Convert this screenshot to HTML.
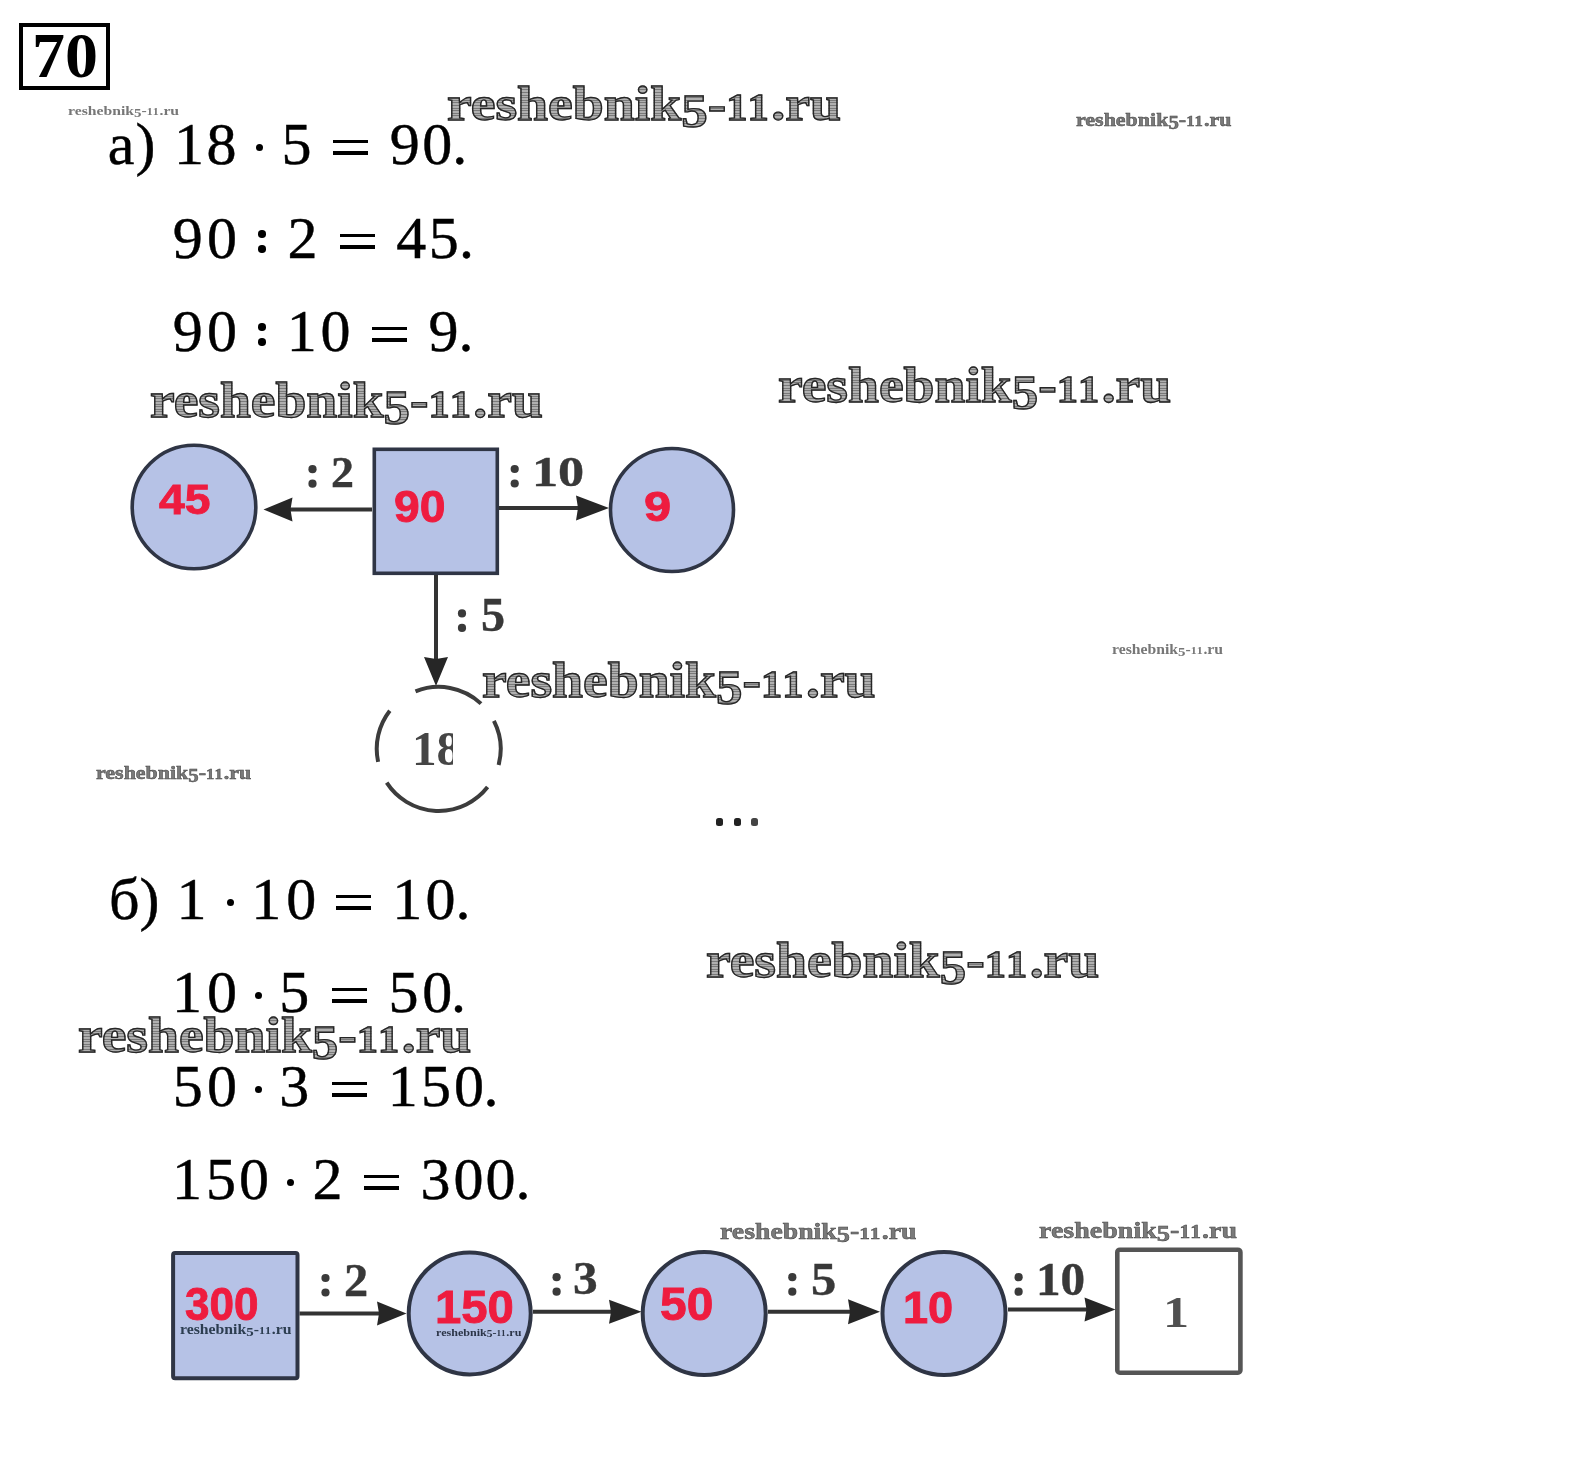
<!DOCTYPE html>
<html><head><meta charset="utf-8"><title>70</title>
<style>
html,body{margin:0;padding:0;background:#fff;}
body{width:1594px;height:1458px;position:relative;overflow:hidden;}
.s{position:absolute;left:0;top:0;}
.t{position:absolute;line-height:1;white-space:pre;font-weight:bold;transform-origin:0 0;}
.m{position:absolute;font-family:'Liberation Serif',serif;font-size:60px;line-height:1;font-weight:normal;color:#000;white-space:pre;-webkit-text-stroke:0.45px #000;}
.wm{background:repeating-linear-gradient(180deg,#7a7a7a 0 1px,#b0b0b0 1px 2.6px);-webkit-background-clip:text;background-clip:text;color:transparent!important;}
.b{position:absolute;height:3.4px;background:#000;}
.d{position:absolute;width:7.5px;height:7.5px;border-radius:50%;background:#000;}
.o5{font-size:0.95em;vertical-align:-0.14em}.o1{font-size:0.76em;letter-spacing:0.06em}
.box{position:absolute;left:19px;top:23px;width:83px;height:59px;border:4.4px solid #000;}
</style></head><body>
<div class="box"></div>
<b class="m" style="left:107.8px;top:114px">a</b>
<b class="m" style="left:135.6px;top:114px">)</b>
<b class="m" style="left:174px;top:114px">1</b>
<b class="m" style="left:206.5px;top:114px">8</b>
<i class="d" style="left:255.6px;top:143.6px"></i>
<b class="m" style="left:281.4px;top:114px">5</b>
<i class="b" style="left:332.7px;top:140px;width:35.2px"></i>
<i class="b" style="left:332.7px;top:151.2px;width:35.2px"></i>
<b class="m" style="left:389.7px;top:114px">9</b>
<b class="m" style="left:422.3px;top:114px">0</b>
<b class="m" style="left:452.3px;top:114px">.</b>
<b class="m" style="left:172.8px;top:208px">9</b>
<b class="m" style="left:206.9px;top:208px">0</b>
<i class="d" style="left:258px;top:230.1px"></i>
<i class="d" style="left:258px;top:245.2px"></i>
<b class="m" style="left:287.5px;top:208px">2</b>
<i class="b" style="left:340.1px;top:234px;width:35.1px"></i>
<i class="b" style="left:340.1px;top:245.2px;width:35.1px"></i>
<b class="m" style="left:396.2px;top:208px">4</b>
<b class="m" style="left:428.7px;top:208px">5</b>
<b class="m" style="left:459px;top:208px">.</b>
<b class="m" style="left:172.8px;top:301px">9</b>
<b class="m" style="left:206.9px;top:301px">0</b>
<i class="d" style="left:258px;top:323.1px"></i>
<i class="d" style="left:258px;top:338.1px"></i>
<b class="m" style="left:286.7px;top:301px">1</b>
<b class="m" style="left:320.5px;top:301px">0</b>
<i class="b" style="left:372px;top:327px;width:35.2px"></i>
<i class="b" style="left:372px;top:338.2px;width:35.2px"></i>
<b class="m" style="left:428.4px;top:301px">9</b>
<b class="m" style="left:458.4px;top:301px">.</b>
<b class="m" style="left:108.9px;top:869px">б</b>
<b class="m" style="left:139.4px;top:869px">)</b>
<b class="m" style="left:176.6px;top:869px">1</b>
<i class="d" style="left:226.7px;top:898.6px"></i>
<b class="m" style="left:251.2px;top:869px">1</b>
<b class="m" style="left:286.2px;top:869px">0</b>
<i class="b" style="left:335.8px;top:895px;width:35.2px"></i>
<i class="b" style="left:335.8px;top:906.2px;width:35.2px"></i>
<b class="m" style="left:392.3px;top:869px">1</b>
<b class="m" style="left:425.4px;top:869px">0</b>
<b class="m" style="left:455.4px;top:869px">.</b>
<b class="m" style="left:171.9px;top:962px">1</b>
<b class="m" style="left:206.9px;top:962px">0</b>
<i class="d" style="left:254.7px;top:991.6px"></i>
<b class="m" style="left:279.3px;top:962px">5</b>
<i class="b" style="left:332px;top:988px;width:35.1px"></i>
<i class="b" style="left:332px;top:999.2px;width:35.1px"></i>
<b class="m" style="left:388.6px;top:962px">5</b>
<b class="m" style="left:422.2px;top:962px">0</b>
<b class="m" style="left:451px;top:962px">.</b>
<b class="m" style="left:172.7px;top:1056px">5</b>
<b class="m" style="left:206.9px;top:1056px">0</b>
<i class="d" style="left:254.7px;top:1085.6px"></i>
<b class="m" style="left:279.3px;top:1056px">3</b>
<i class="b" style="left:331.9px;top:1082px;width:35.2px"></i>
<i class="b" style="left:331.9px;top:1093.2px;width:35.2px"></i>
<b class="m" style="left:387.8px;top:1056px">1</b>
<b class="m" style="left:421.1px;top:1056px">5</b>
<b class="m" style="left:454.1px;top:1056px">0</b>
<b class="m" style="left:483.5px;top:1056px">.</b>
<b class="m" style="left:171.9px;top:1149px">1</b>
<b class="m" style="left:205.9px;top:1149px">5</b>
<b class="m" style="left:238.9px;top:1149px">0</b>
<i class="d" style="left:286.7px;top:1178.6px"></i>
<b class="m" style="left:312.6px;top:1149px">2</b>
<i class="b" style="left:363.8px;top:1175px;width:35.2px"></i>
<i class="b" style="left:363.8px;top:1186.2px;width:35.2px"></i>
<b class="m" style="left:420.4px;top:1149px">3</b>
<b class="m" style="left:453.4px;top:1149px">0</b>
<b class="m" style="left:485.4px;top:1149px">0</b>
<b class="m" style="left:515.4px;top:1149px">.</b>
<svg class="s" width="1594" height="1458" viewBox="0 0 1594 1458"><circle cx="194" cy="507" r="61.8" fill="#b6c2e6" stroke="#2f3545" stroke-width="3.6"/><rect x="374.3" y="449.3" width="123" height="124" fill="#b6c2e6" stroke="#2f3545" stroke-width="3.6"/><circle cx="672" cy="510" r="61.5" fill="#b6c2e6" stroke="#2f3545" stroke-width="3.6"/><line x1="372" y1="509.5" x2="287.5" y2="509.5" stroke="#333" stroke-width="4"/><path d="M263.5,509.5 L292.5,497.5 L290.5,509.5 L292.5,521.5 Z" fill="#262626"/><line x1="499" y1="508" x2="581" y2="508" stroke="#333" stroke-width="4"/><path d="M609,508 L576,495.5 L578,508 L576,520.5 Z" fill="#262626"/><line x1="436" y1="575" x2="436" y2="662" stroke="#333" stroke-width="4"/><path d="M436,686 L424,657 L436,659 L448,657 Z" fill="#262626"/><path d="M415.5,691.4 A62,62 0 0 1 481.0,703.6 M493.9,720.8 A62,62 0 0 1 498.6,764.9 M487.6,787.1 A62,62 0 0 1 386.7,782.7 M378.1,761.8 A62,62 0 0 1 389.8,710.7" fill="none" stroke="#3c3c3c" stroke-width="4"/><rect x="173.1" y="1253" width="124.4" height="125.3" rx="2" fill="#b6c2e6" stroke="#2f3545" stroke-width="4"/><circle cx="469.7" cy="1313.4" r="61" fill="#b6c2e6" stroke="#2f3545" stroke-width="4"/><circle cx="704.2" cy="1313.5" r="61.5" fill="#b6c2e6" stroke="#2f3545" stroke-width="4"/><circle cx="944" cy="1313.5" r="61.5" fill="#b6c2e6" stroke="#2f3545" stroke-width="4"/><rect x="1117.3" y="1249.7" width="123.1" height="123" rx="2.5" fill="#fff" stroke="#555" stroke-width="4.6"/><line x1="299.5" y1="1313.4" x2="382" y2="1313.4" stroke="#333" stroke-width="4"/><path d="M406.5,1313.4 L377,1301.4 L379,1313.4 L377,1325.4 Z" fill="#262626"/><line x1="533" y1="1311.8" x2="614" y2="1311.8" stroke="#333" stroke-width="4"/><path d="M641.5,1311.8 L609,1299.8 L611,1311.8 L609,1323.8 Z" fill="#262626"/><line x1="768" y1="1311.8" x2="853" y2="1311.8" stroke="#333" stroke-width="4"/><path d="M880,1311.8 L848,1299.3 L850,1311.8 L848,1324.3 Z" fill="#262626"/><line x1="1008" y1="1309.5" x2="1089.5" y2="1309.5" stroke="#333" stroke-width="4"/><path d="M1115.5,1309.5 L1084.5,1297.5 L1086.5,1309.5 L1084.5,1321.5 Z" fill="#262626"/><circle cx="312.5" cy="469.2" r="4.1" fill="#3a3a3a"/><circle cx="312.5" cy="483.7" r="4.1" fill="#3a3a3a"/><circle cx="514.7" cy="469.0" r="4.1" fill="#3a3a3a"/><circle cx="514.7" cy="483.5" r="4.1" fill="#3a3a3a"/><circle cx="462" cy="613.4000000000001" r="4.1" fill="#3a3a3a"/><circle cx="462" cy="627.9000000000001" r="4.1" fill="#3a3a3a"/><circle cx="325.5" cy="1278.0" r="4.1" fill="#3a3a3a"/><circle cx="325.5" cy="1292.5" r="4.1" fill="#3a3a3a"/><circle cx="556.6" cy="1277.2" r="4.1" fill="#3a3a3a"/><circle cx="556.6" cy="1291.7" r="4.1" fill="#3a3a3a"/><circle cx="792.3" cy="1277.2" r="4.1" fill="#3a3a3a"/><circle cx="792.3" cy="1291.7" r="4.1" fill="#3a3a3a"/><circle cx="1018.6" cy="1277.2" r="4.1" fill="#3a3a3a"/><circle cx="1018.6" cy="1291.7" r="4.1" fill="#3a3a3a"/><rect x="716" y="818" width="7" height="8" rx="2.5" fill="#222"/><rect x="734" y="818" width="7" height="8" rx="2.5" fill="#222"/><rect x="751" y="818" width="7" height="8" rx="2.5" fill="#444"/></svg>
<div class="t" style="left:31.84px;top:24.72px;font-family:'Liberation Serif';font-size:62.69px;color:#000;transform:scaleX(1.053);">70</div>
<div class="t" style="left:159.08px;top:478.93px;font-family:'Liberation Sans';font-size:42.29px;color:#ee1c3f;transform:scaleX(1.093);-webkit-text-stroke:0.9px #ee1c3f;">45</div>
<div class="t" style="left:394.15px;top:484.89px;font-family:'Liberation Sans';font-size:44.08px;color:#ee1c3f;transform:scaleX(1.05);-webkit-text-stroke:0.9px #ee1c3f;">90</div>
<div class="t" style="left:643.65px;top:485.66px;font-family:'Liberation Sans';font-size:42.25px;color:#ee1c3f;transform:scaleX(1.154);-webkit-text-stroke:0.9px #ee1c3f;">9</div>
<div class="t" style="left:185.12px;top:1282.11px;font-family:'Liberation Sans';font-size:45.92px;color:#ee1c3f;transform:scaleX(0.96);-webkit-text-stroke:0.9px #ee1c3f;">300</div>
<div class="t" style="left:435.46px;top:1285.31px;font-family:'Liberation Sans';font-size:45.92px;color:#ee1c3f;transform:scaleX(1.029);-webkit-text-stroke:0.9px #ee1c3f;">150</div>
<div class="t" style="left:660.36px;top:1282.11px;font-family:'Liberation Sans';font-size:45.92px;color:#ee1c3f;transform:scaleX(1.043);-webkit-text-stroke:0.9px #ee1c3f;">50</div>
<div class="t" style="left:902.99px;top:1285.48px;font-family:'Liberation Sans';font-size:44.79px;color:#ee1c3f;transform:scaleX(1.008);-webkit-text-stroke:0.9px #ee1c3f;">10</div>
<div class="t" style="left:330.86px;top:449.95px;font-family:'Liberation Serif';font-size:44.7px;color:#383838;transform:scaleX(1.028);-webkit-text-stroke:0.4px #383838;">2</div>
<div class="t" style="left:531.82px;top:450.92px;font-family:'Liberation Serif';font-size:42.79px;color:#383838;transform:scaleX(1.221);-webkit-text-stroke:0.4px #383838;">10</div>
<div class="t" style="left:481.28px;top:590.97px;font-family:'Liberation Serif';font-size:48.48px;color:#383838;transform:scaleX(0.992);-webkit-text-stroke:0.4px #383838;">5</div>
<div class="t" style="left:344.07px;top:1257.74px;font-family:'Liberation Serif';font-size:45.91px;color:#383838;transform:scaleX(1.053);-webkit-text-stroke:0.4px #383838;">2</div>
<div class="t" style="left:573.33px;top:1256.17px;font-family:'Liberation Serif';font-size:46.27px;color:#383838;transform:scaleX(1.066);-webkit-text-stroke:0.4px #383838;">3</div>
<div class="t" style="left:810.68px;top:1257.06px;font-family:'Liberation Serif';font-size:45.76px;color:#383838;transform:scaleX(1.103);-webkit-text-stroke:0.4px #383838;">5</div>
<div class="t" style="left:1036.26px;top:1256.75px;font-family:'Liberation Serif';font-size:45.59px;color:#383838;transform:scaleX(1.079);-webkit-text-stroke:0.4px #383838;">10</div>
<div class="t" style="left:1163.33px;top:1289.82px;font-family:'Liberation Serif';font-size:45.15px;color:#505050;transform:scaleX(1.155);">1</div>
<div style="position:absolute;left:400px;top:720px;width:52.5px;height:60px;overflow:hidden"><div class="t" style="left:11.76px;top:5.62px;font-family:'Liberation Serif';font-size:47.5px;color:#454545;transform:scaleX(1.036)">18</div></div>
<div class="t wm" style="left:447.37px;top:79.48px;font-family:'Liberation Serif';font-size:49.43px;color:#8d8d8d;transform:scaleX(1.1271);-webkit-text-stroke:1.3px #262626;">reshebnik<span class="o5">5</span>-<span class="o1">11</span>.ru</div>
<div class="t wm" style="left:150.27px;top:374.8px;font-family:'Liberation Serif';font-size:50.71px;color:#8d8d8d;transform:scaleX(1.0954);-webkit-text-stroke:1.3px #262626;">reshebnik<span class="o5">5</span>-<span class="o1">11</span>.ru</div>
<div class="t wm" style="left:778.37px;top:358.94px;font-family:'Liberation Serif';font-size:51.14px;color:#8d8d8d;transform:scaleX(1.0872);-webkit-text-stroke:1.3px #262626;">reshebnik<span class="o5">5</span>-<span class="o1">11</span>.ru</div>
<div class="t wm" style="left:482.07px;top:654.8px;font-family:'Liberation Serif';font-size:50.71px;color:#8d8d8d;transform:scaleX(1.0975);-webkit-text-stroke:1.3px #262626;">reshebnik<span class="o5">5</span>-<span class="o1">11</span>.ru</div>
<div class="t wm" style="left:706.27px;top:934.8px;font-family:'Liberation Serif';font-size:50.71px;color:#8d8d8d;transform:scaleX(1.0964);-webkit-text-stroke:1.3px #262626;">reshebnik<span class="o5">5</span>-<span class="o1">11</span>.ru</div>
<div class="t wm" style="left:78.37px;top:1010.48px;font-family:'Liberation Serif';font-size:50.86px;color:#8d8d8d;transform:scaleX(1.0934);-webkit-text-stroke:1.3px #262626;">reshebnik<span class="o5">5</span>-<span class="o1">11</span>.ru</div>
<div class="t" style="left:1075.65px;top:110.44px;font-family:'Liberation Serif';font-size:19.71px;color:#7a7a7a;transform:scaleX(1.1159);-webkit-text-stroke:0.5px #444;">reshebnik<span class="o5">5</span>-<span class="o1">11</span>.ru</div>
<div class="t" style="left:95.66px;top:762.5px;font-family:'Liberation Serif';font-size:19.29px;color:#7a7a7a;transform:scaleX(1.1384);-webkit-text-stroke:0.5px #444;">reshebnik<span class="o5">5</span>-<span class="o1">11</span>.ru</div>
<div class="t" style="left:719.89px;top:1219.74px;font-family:'Liberation Serif';font-size:23.29px;color:#7a7a7a;transform:scaleX(1.1926);-webkit-text-stroke:0.5px #444;">reshebnik<span class="o5">5</span>-<span class="o1">11</span>.ru</div>
<div class="t" style="left:1039.18px;top:1219.02px;font-family:'Liberation Serif';font-size:23.43px;color:#7a7a7a;transform:scaleX(1.1956);-webkit-text-stroke:0.5px #444;">reshebnik<span class="o5">5</span>-<span class="o1">11</span>.ru</div>
<div class="t" style="left:67.84px;top:103.64px;font-family:'Liberation Serif';font-size:13.29px;color:#777;transform:scaleX(1.1823);">reshebnik<span class="o5">5</span>-<span class="o1">11</span>.ru</div>
<div class="t" style="left:1111.84px;top:643.16px;font-family:'Liberation Serif';font-size:13.86px;color:#777;transform:scaleX(1.1333);">reshebnik<span class="o5">5</span>-<span class="o1">11</span>.ru</div>
<div class="t" style="left:179.64px;top:1323.24px;font-family:'Liberation Serif';font-size:14px;color:#2c3d50;transform:scaleX(1.1251);">reshebnik<span class="o5">5</span>-<span class="o1">11</span>.ru</div>
<div class="t" style="left:435.95px;top:1327.96px;font-family:'Liberation Serif';font-size:10.29px;color:#2c3548;transform:scaleX(1.1731);">reshebnik<span class="o5">5</span>-<span class="o1">11</span>.ru</div>
</body></html>
